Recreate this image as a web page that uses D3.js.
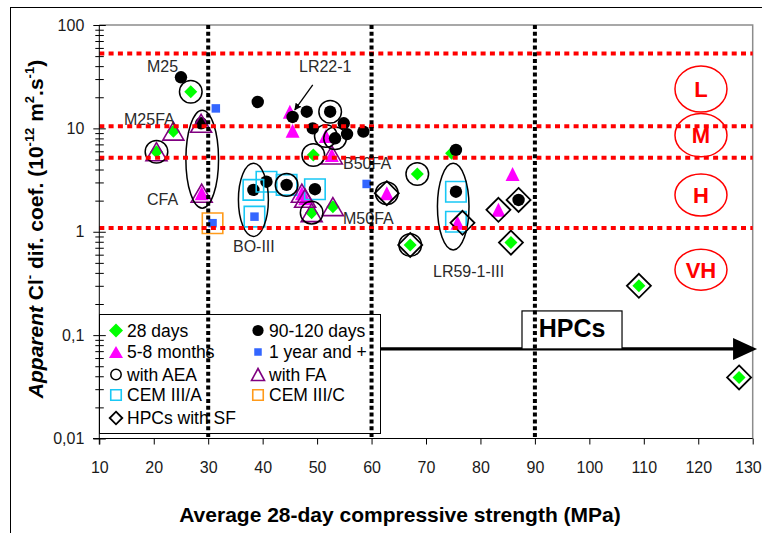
<!DOCTYPE html>
<html>
<head>
<meta charset="utf-8">
<script src="https://cdn.jsdelivr.net/npm/d3@7"></script>
<style>
  body { margin: 0; background: #fff; }
  svg { display: block; font-family: "Liberation Sans", Arial, sans-serif; }
</style>
</head>
<body>
<svg id="chart" width="762" height="533"></svg>
<script>
// ---- axes ----
const xTicks = [10, 20, 30, 40, 50, 60, 70, 80, 90, 100, 110, 120, 130];
const yTicks = [0.01, 0.1, 1, 10, 100];
const yTickLabels = ["0,01", "0,1", "1", "10", "100"];

// ---- strength class limits (MPa) and resistance class limits ----
const strengthLimits = [30, 60, 90];
const classLimits = [53, 10.5, 5.2, 1.09];
const classNames = ["L", "M", "H", "VH"];
const classLevels = [24, 8.6, 2.27, 0.43];
const classStrength = 120.5;

// ---- series: [compressive strength MPa, diffusion coefficient] ----
const days28 = [[26.8, 22.6], [23.6, 9.4], [20.5, 5.95], [49.3, 5.53], [52.9, 1.75], [49.0, 1.53],
  [68.4, 3.62], [74.7, 5.74], [67.1, 0.745], [85.6, 0.785], [109.1, 0.30], [127.5, 0.039]];
const months58 = [[28.8, 2.36], [45.0, 14.5], [45.5, 9.5], [51.6, 8.44], [52.7, 5.53], [47.2, 2.36],
  [47.8, 2.11], [62.8, 2.36], [75.8, 1.22], [85.9, 3.62], [83.3, 1.63]];
const days90 = [[25.0, 31.2], [39.1, 18.0], [28.7, 11.2], [38.3, 2.54], [40.7, 3.05], [45.5, 12.9],
  [48.1, 14.5], [52.4, 14.5], [49.2, 10.0], [54.9, 11.2], [55.5, 8.8], [58.5, 9.3], [53.3, 8.02],
  [44.4, 2.84], [49.6, 2.58], [75.5, 6.18], [75.5, 2.44], [87.0, 2.03]];
const year1 = [[31.4, 15.6], [30.8, 1.21], [38.5, 1.40], [59.1, 2.90]];
const withAEA = [[26.8, 22.6], [20.5, 5.95], [52.4, 14.5], [51.6, 8.44], [53.3, 8.02], [49.3, 5.53],
  [44.4, 2.84], [49.0, 1.53], [62.8, 2.36], [68.4, 3.62], [67.1, 0.745]];
const withFA = [[28.7, 11.2], [23.6, 9.4], [20.5, 5.95], [28.8, 2.36], [52.7, 5.53], [47.2, 2.36],
  [47.8, 2.11], [52.9, 1.75], [49.0, 1.53]];
const cem3A = [[38.3, 2.54], [40.7, 3.05], [38.5, 1.40], [44.4, 2.84], [49.6, 2.58], [75.5, 2.44], [75.5, 1.25]];
const cem3C = [[30.8, 1.21]];
const hpcSF = [[62.8, 2.36], [67.1, 0.745], [76.7, 1.22], [83.3, 1.63], [87.0, 2.03], [85.6, 0.785],
  [109.1, 0.30], [127.5, 0.039]];

// ---- grouped mixes: centre strength, top / bottom coefficient, half width (MPa) ----
const groupCentre = [28.9, 38.3, 75.0];
const groupTop = [15.0, 4.6, 4.6];
const groupBottom = [1.69, 0.90, 0.667];
const groupHalfWidth = [3.0, 2.75, 2.9];

// ---- mix labels: text, left strength, baseline coefficient ----
const mixNames = ["M25", "M25FA", "CFA", "LR22-1", "B50FA", "M50FA", "BO-III", "LR59-1-III"];
const mixX = [18.76, 14.54, 18.76, 46.68, 54.76, 54.76, 34.55, 71.29];
const mixY = [35.1, 10.9, 1.82, 35.1, 4.05, 1.19, 0.638, 0.366];
const pointerFrom = [49.2, 26.3];
const pointerTo = [45.9, 15.1];

// ---- HPC range ----
const hpcBox = [87.63, 106.0, 0.1714, 0.0735];
const hpcArrow = [60, 130.8, 0.0735];

const legendLeft = ["28 days", "5-8 months", "with AEA", "CEM III/A", "HPCs with SF"];
const legendRight = ["90-120 days", "1 year and +", "with FA", "CEM III/C"];

// ================= drawing =================
const svg = d3.select("#chart");
const x = d3.scaleLinear().domain([10, 130]).range([99.3, 752.7]);
const y = d3.scaleLog().domain([0.01, 100]).range([438.5, 25]);
const [x0, x1] = x.range();
const [yB, yT] = y.range();

svg.append("rect").attr("width", 762).attr("height", 533).attr("fill", "#fff");
svg.append("rect").attr("x", 10.5).attr("y", 7.5).attr("width", 770).attr("height", 560)
  .attr("fill", "none").attr("stroke", "#000").attr("stroke-width", 1);

// plot frame (top / right)
svg.append("path").attr("d", `M${x0},${yT}H${x1}V${yB}`)
  .attr("fill", "none").attr("stroke", "#8c8c8c").attr("stroke-width", 1.5);

// marker shapes
const shape = {
  diamond: r => `M0,${-r}L${r},0L0,${r}L${-r},0Z`,
  triangle: (w, h) => `M0,${-h / 2}L${w / 2},${h / 2}L${-w / 2},${h / 2}Z`,
  square: s => `M${-s / 2},${-s / 2}h${s}v${s}h${-s}Z`,
  circle: r => `M${-r},0a${r},${r} 0 1,0 ${2 * r},0a${r},${r} 0 1,0 ${-2 * r},0Z`
};

const series = {
  days28:   { data: days28,   big: shape.diamond(6.5),      small: shape.diamond(7),      fill: "#00ff00", stroke: "none", sw: 0 },
  months58: { data: months58, big: shape.triangle(14, 14),  small: shape.triangle(14, 12), fill: "#ff00ff", stroke: "none", sw: 0 },
  days90:   { data: days90,   big: shape.circle(6.2),       small: shape.circle(5.6),     fill: "#000", stroke: "none", sw: 0 },
  year1:    { data: year1,    big: shape.square(8.5),       small: shape.square(7.5),     fill: "#3366ff", stroke: "none", sw: 0 },
  withAEA:  { data: withAEA,  big: shape.circle(11.3),      small: shape.circle(5.2),     fill: "none", stroke: "#000", sw: 1.5 },
  withFA:   { data: withFA,   big: shape.triangle(21, 18),  small: shape.triangle(13, 12), fill: "none", stroke: "#800080", sw: 1.6 },
  cem3A:    { data: cem3A,    big: shape.square(20.5),      small: shape.square(10.5),    fill: "none", stroke: "#19c8f5", sw: 1.6 },
  cem3C:    { data: cem3C,    big: shape.square(20.5),      small: shape.square(10.5),    fill: "none", stroke: "#ff9a1a", sw: 1.6 },
  hpcSF:    { data: hpcSF,    big: shape.diamond(12),       small: shape.diamond(6.3),    fill: "none", stroke: "#000", sw: 1.8 }
};

const drawOrder = ["days28", "months58", "days90", "year1", "cem3A", "cem3C", "withFA", "withAEA", "hpcSF"];
const gPts = svg.append("g");
drawOrder.forEach(k => {
  const s = series[k];
  gPts.append("g").selectAll("path").data(s.data).join("path")
    .attr("transform", d => `translate(${x(d[0])},${y(d[1])})`)
    .attr("d", s.big).attr("fill", s.fill).attr("stroke", s.stroke)
    .attr("stroke-width", s.sw).attr("stroke-linejoin", "miter");
});

// grouped mixes
svg.append("g").selectAll("ellipse").data(groupCentre).join("ellipse")
  .attr("cx", d => x(d))
  .attr("cy", (d, i) => (y(groupTop[i]) + y(groupBottom[i])) / 2)
  .attr("rx", (d, i) => x(d + groupHalfWidth[i]) - x(d))
  .attr("ry", (d, i) => (y(groupBottom[i]) - y(groupTop[i])) / 2)
  .attr("fill", "none").attr("stroke", "#000").attr("stroke-width", 1.5);

// mix labels
svg.append("g").selectAll("text").data(mixNames).join("text")
  .attr("x", (d, i) => x(mixX[i])).attr("y", (d, i) => y(mixY[i]))
  .attr("font-size", 16).attr("fill", "#2a2a2a").text(d => d);

svg.append("defs").append("marker").attr("id", "ptr").attr("viewBox", "0 0 10 10")
  .attr("refX", 9).attr("refY", 5).attr("markerWidth", 7).attr("markerHeight", 7)
  .attr("orient", "auto").attr("markerUnits", "userSpaceOnUse")
  .append("path").attr("d", "M0,0L10,5L0,10Z").attr("fill", "#000");
svg.append("line")
  .attr("x1", x(pointerFrom[0])).attr("y1", y(pointerFrom[1]))
  .attr("x2", x(pointerTo[0])).attr("y2", y(pointerTo[1]))
  .attr("stroke", "#000").attr("stroke-width", 1.3).attr("marker-end", "url(#ptr)");

// resistance class limits
svg.append("g").selectAll("line").data(classLimits).join("line")
  .attr("x1", x0).attr("x2", x1).attr("y1", d => y(d)).attr("y2", d => y(d))
  .attr("stroke", "#ff0000").attr("stroke-width", 4).attr("stroke-dasharray", "5,4.3");

// resistance class badges
const badges = svg.append("g").selectAll("g").data(classNames).join("g")
  .attr("transform", (d, i) => `translate(${x(classStrength)},${y(classLevels[i])})`);
badges.append("ellipse").attr("rx", 26).attr("ry", (d, i) => [23, 21.7, 21, 20.5][i])
  .attr("fill", "none").attr("stroke", "#ff0000").attr("stroke-width", 1.5);
badges.append("text").attr("text-anchor", "middle").attr("dy", "0.36em")
  .attr("font-size", 22).attr("font-weight", "bold").attr("fill", "#ff0000").text(d => d);

// HPC range arrow and box
svg.append("line").attr("x1", x(hpcArrow[0])).attr("x2", x(hpcArrow[1]) - 20)
  .attr("y1", y(hpcArrow[2])).attr("y2", y(hpcArrow[2]))
  .attr("stroke", "#000").attr("stroke-width", 3.2);
svg.append("path")
  .attr("d", `M${x(hpcArrow[1])},${y(hpcArrow[2])}l-24,-11v22Z`).attr("fill", "#000");
svg.append("rect").attr("x", x(hpcBox[0])).attr("y", y(hpcBox[2]))
  .attr("width", x(hpcBox[1]) - x(hpcBox[0])).attr("height", y(hpcBox[3]) - y(hpcBox[2]))
  .attr("fill", "#fff").attr("stroke", "#000").attr("stroke-width", 1.2);
svg.append("text").attr("x", (x(hpcBox[0]) + x(hpcBox[1])) / 2).attr("y", y(hpcBox[3]) - 11.5)
  .attr("text-anchor", "middle").attr("font-size", 25).attr("font-weight", "bold").text("HPCs");

// legend
const lg = svg.append("g").attr("transform", "translate(99.5,314.5)");
lg.append("rect").attr("width", 281).attr("height", 119).attr("fill", "#fff")
  .attr("stroke", "#000").attr("stroke-width", 1);
const leftKeys = ["days28", "months58", "withAEA", "cem3A", "hpcSF"];
const rightKeys = ["days90", "year1", "withFA", "cem3C"];
const rowY = [16, 37.5, 60, 80.5, 103.5];
[[leftKeys, legendLeft, 16.5, 27.5], [rightKeys, legendRight, 158.5, 169.5]].forEach(([keys, labels, mx, tx]) => {
  const rows = lg.append("g").selectAll("g").data(keys).join("g")
    .attr("transform", (d, i) => `translate(0,${rowY[i]})`);
  rows.append("path").attr("transform", `translate(${mx},0)`)
    .attr("d", d => series[d].small).attr("fill", d => series[d].fill)
    .attr("stroke", d => series[d].stroke).attr("stroke-width", d => series[d].sw);
  rows.append("text").attr("x", tx).attr("dy", "0.36em").attr("font-size", 17.5)
    .text((d, i) => labels[i]);
});

// strength class limits
svg.append("g").selectAll("line").data(strengthLimits).join("line")
  .attr("x1", d => x(d)).attr("x2", d => x(d)).attr("y1", yT).attr("y2", yB)
  .attr("stroke", "#000").attr("stroke-width", 4).attr("stroke-dasharray", "4,2.8");

// x axis
const xAxis = svg.append("g").attr("transform", `translate(0,${yB})`)
  .call(d3.axisBottom(x).tickValues(xTicks).tickSize(6).tickPadding(17).tickFormat(d3.format("d")));
xAxis.select(".domain").attr("d", `M93,0H${x1}`).attr("stroke", "#000");
xAxis.selectAll("text").attr("font-size", 16).attr("fill", "#1a1a1a").attr("font-family", null);
// last label kept inside the page edge
xAxis.selectAll(".tick").filter(d => d === xTicks[xTicks.length - 1]).select("text")
  .attr("text-anchor", "end").attr("x", 8.5);

// y axis (log, ticks crossing the axis line)
const minor = [];
for (let e = -2; e < 2; e++) for (let m = 2; m <= 9; m++) minor.push(m * Math.pow(10, e));
const yMinor = svg.append("g").attr("transform", `translate(${x0},0)`)
  .call(d3.axisLeft(y).tickValues(minor).tickSize(4).tickFormat(""));
yMinor.select(".domain").remove();
yMinor.selectAll("line").attr("x2", -4).attr("x1", 4.5);
const yAxis = svg.append("g").attr("transform", `translate(${x0},0)`)
  .call(d3.axisLeft(y).tickValues(yTicks).tickSize(6).tickPadding(9)
    .tickFormat((d, i) => yTickLabels[i]));
yAxis.select(".domain").attr("d", `M0,${yT}V${yB + 6}`).attr("stroke", "#000");
yAxis.selectAll("line").attr("x2", -6).attr("x1", 6.5);
yAxis.selectAll("text").attr("font-size", 16).attr("fill", "#1a1a1a").attr("font-family", null);

// axis titles
svg.append("text").attr("x", 400).attr("y", 522).attr("text-anchor", "middle")
  .attr("font-size", 21).attr("font-weight", "bold").text("Average 28-day compressive strength (MPa)");

const yt = svg.append("text").attr("transform", "translate(43,229) rotate(-90)")
  .attr("text-anchor", "middle").attr("font-size", 21).attr("font-weight", "bold");
yt.append("tspan").attr("font-style", "italic").text("Apparent");
yt.append("tspan").text(" Cl");
yt.append("tspan").attr("font-size", 13).attr("dy", -9).text("-");
yt.append("tspan").attr("dy", 9).text(" dif. coef. (10");
yt.append("tspan").attr("font-size", 13).attr("dy", -9).text("-12");
yt.append("tspan").attr("dy", 9).text(" m");
yt.append("tspan").attr("font-size", 13).attr("dy", -9).text("2");
yt.append("tspan").attr("dy", 9).text(".s");
yt.append("tspan").attr("font-size", 13).attr("dy", -9).text("-1");
yt.append("tspan").attr("dy", 9).text(")");
</script>
</body>
</html>
